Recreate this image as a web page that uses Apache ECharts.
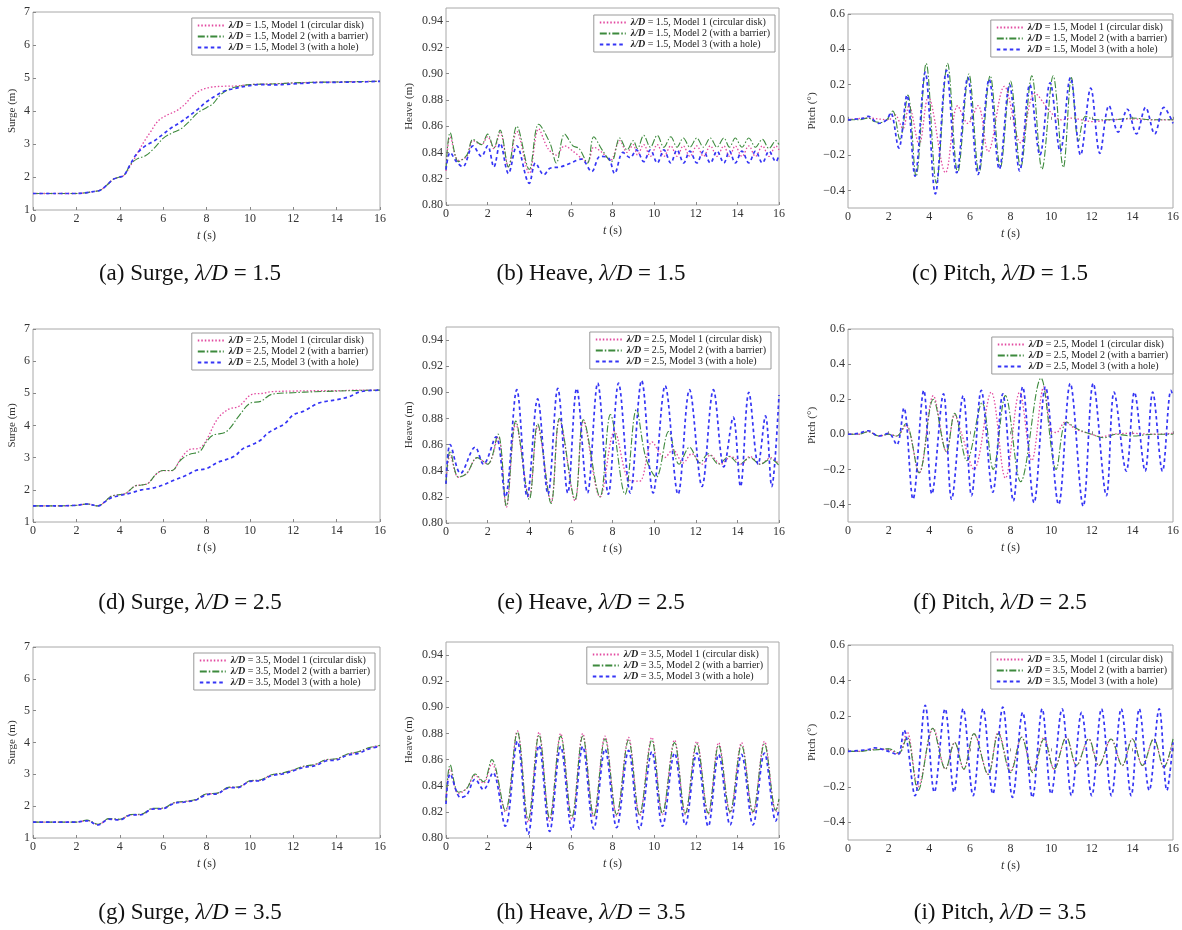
<!DOCTYPE html>
<html><head><meta charset="utf-8">
<script src="https://cdn.jsdelivr.net/npm/echarts@6/dist/echarts.min.js"></script>
<style>html,body{margin:0;padding:0;background:#fff}#c{width:1182px;height:930px}</style>
</head><body><div id="c"></div>
<script>
// ---------- data: [t (s), value] ----------
const s15_m1 = [[0,1.5],[1,1.5],[2,1.5],[2.4,1.52],[2.8,1.56],[3.1,1.6],[3.4,1.75],[3.7,1.93],[4.0,2.0],[4.2,2.05],[4.5,2.35],[4.8,2.7],[5.1,3.05],[5.4,3.35],[5.8,3.72],[6.2,3.88],[6.6,4.0],[7.0,4.2],[7.3,4.42],[7.7,4.62],[8.2,4.72],[8.8,4.75],[9.4,4.76],[10,4.8],[11,4.82],[12,4.85],[13,4.87],[14,4.88],[15,4.89],[16,4.9]];
const s15_m2 = [[0,1.5],[1,1.5],[2,1.5],[2.4,1.52],[2.8,1.56],[3.1,1.6],[3.4,1.75],[3.7,1.93],[4.0,2.0],[4.2,2.05],[4.5,2.38],[4.8,2.55],[5.2,2.65],[5.6,2.88],[6.0,3.17],[6.4,3.33],[6.8,3.45],[7.2,3.68],[7.6,3.95],[8.0,4.1],[8.3,4.22],[8.6,4.46],[9.0,4.65],[9.5,4.75],[10,4.8],[11,4.82],[12,4.85],[13,4.87],[14,4.88],[15,4.89],[16,4.9]];
const s15_m3 = [[0,1.5],[1,1.5],[2,1.5],[2.4,1.52],[2.8,1.56],[3.1,1.6],[3.4,1.75],[3.7,1.93],[4.0,2.0],[4.2,2.05],[4.5,2.4],[4.8,2.72],[5.2,2.95],[5.6,3.1],[6.0,3.3],[6.4,3.5],[6.8,3.66],[7.2,3.85],[7.6,4.05],[8.0,4.28],[8.4,4.45],[8.8,4.6],[9.3,4.68],[9.8,4.75],[10.5,4.8],[11,4.79],[12,4.82],[13,4.86],[14,4.87],[15,4.88],[16,4.9]];

const h15_m1 = [[0,0.826],[0.2,0.852],[0.6,0.834],[1.0,0.837],[1.3,0.849],[1.7,0.846],[2.0,0.852],[2.3,0.843],[2.6,0.855],[3.0,0.829],[3.4,0.856],[4.0,0.824],[4.45,0.858],[4.9,0.843],[5.3,0.838],[5.7,0.845],[6.1,0.841],[6.8,0.833],[7.1,0.844],[7.5,0.84],[7.9,0.834],[8.35,0.849],[8.7,0.84],[9.0,0.846],[9.2,0.838],[9.5,0.846],[9.82,0.837],[10.15,0.846],[10.47,0.837],[10.8,0.845],[11.1,0.837],[11.4,0.845],[11.72,0.837],[12.05,0.845],[12.37,0.837],[12.7,0.845],[13.02,0.837],[13.35,0.845],[13.62,0.837],[13.9,0.845],[14.22,0.837],[14.55,0.845],[14.87,0.837],[15.2,0.845],[15.52,0.837],[15.85,0.845],[16,0.842]];
const h15_m2 = [[0,0.827],[0.2,0.855],[0.6,0.833],[1.0,0.838],[1.3,0.85],[1.7,0.846],[2.0,0.854],[2.3,0.8435],[2.6,0.857],[3.0,0.829],[3.4,0.86],[4.0,0.827],[4.45,0.8615],[5.0,0.847],[5.3,0.832],[5.7,0.854],[6.1,0.845],[6.4,0.843],[6.8,0.832],[7.1,0.852],[7.5,0.842],[7.95,0.833],[8.35,0.851],[8.7,0.842],[9.0,0.849],[9.2,0.843],[9.5,0.853],[9.82,0.844],[10.15,0.853],[10.47,0.844],[10.8,0.852],[11.1,0.844],[11.4,0.851],[11.72,0.844],[12.05,0.851],[12.37,0.844],[12.7,0.851],[13.02,0.844],[13.35,0.851],[13.62,0.844],[13.9,0.851],[14.22,0.844],[14.55,0.851],[14.87,0.844],[15.2,0.85],[15.52,0.843],[15.85,0.849],[16,0.846]];
const h15_m3 = [[0,0.827],[0.2,0.84],[0.5,0.833],[0.8,0.829],[1.3,0.845],[1.7,0.837],[2.0,0.845],[2.3,0.829],[2.6,0.847],[3.0,0.824],[3.4,0.845],[4.0,0.8165],[4.3,0.832],[4.7,0.823],[5.0,0.828],[5.5,0.829],[6.0,0.832],[6.5,0.835],[7.0,0.8255],[7.4,0.837],[7.8,0.836],[8.1,0.824],[8.5,0.84],[8.85,0.836],[9.15,0.842],[9.5,0.833],[9.82,0.842],[10.15,0.832],[10.47,0.842],[10.8,0.832],[11.1,0.842],[11.42,0.832],[11.72,0.841],[12.05,0.832],[12.37,0.841],[12.7,0.832],[13.02,0.841],[13.35,0.832],[13.62,0.841],[13.9,0.832],[14.22,0.841],[14.55,0.832],[14.87,0.841],[15.2,0.832],[15.52,0.841],[15.85,0.833],[16,0.838]];

const p15_m1 = [[0,0],[1,0.01],[2,0.0],[2.3,0.03],[2.7,-0.05],[3.0,0.08],[3.5,-0.14],[3.95,0.13],[4.8,-0.3],[5.4,0.08],[5.9,-0.02],[6.4,0.08],[6.9,-0.18],[7.7,0.19],[8.5,-0.13],[9.2,0.15],[10.0,0.04],[10.5,0.0],[11,0.01],[12,-0.01],[13,0.0],[14,0.005],[15,0.0],[16,0.0]];
const p15_m2 = [[0,0],[0.5,0.0],[1.0,0.01],[1.3,-0.01],[1.6,-0.015],[1.9,0.0],[2.2,0.05],[2.55,-0.11],[2.95,0.14],[3.35,-0.32],[3.85,0.32],[4.35,-0.36],[4.9,0.32],[5.4,-0.3],[5.95,0.26],[6.45,-0.3],[7.0,0.25],[7.5,-0.27],[8.0,0.22],[8.5,-0.27],[9.05,0.25],[9.55,-0.28],[10.1,0.25],[10.6,-0.27],[11.0,0.24],[11.35,-0.12],[11.7,0.02],[12.2,0.0],[13,0.0],[14,0.01],[15,0.0],[16,0.0]];
const p15_m3 = [[0,0],[0.8,0.01],[1.0,0.02],[1.5,-0.02],[1.9,0.0],[2.1,0.04],[2.5,-0.16],[2.9,0.14],[3.3,-0.32],[3.8,0.27],[4.3,-0.42],[4.85,0.28],[5.35,-0.3],[5.9,0.24],[6.4,-0.31],[6.95,0.23],[7.45,-0.28],[7.95,0.2],[8.45,-0.29],[8.95,0.2],[9.45,-0.2],[9.95,0.21],[10.45,-0.18],[10.95,0.24],[11.45,-0.2],[11.95,0.18],[12.4,-0.19],[12.85,0.08],[13.3,-0.07],[13.75,0.06],[14.2,-0.08],[14.65,0.07],[15.1,-0.08],[15.55,0.07],[16,-0.02]];

const s25_m1 = [[0,1.5],[1,1.5],[2,1.52],[2.5,1.56],[3.0,1.5],[3.3,1.62],[3.6,1.8],[4.0,1.85],[4.3,1.9],[4.7,2.12],[5.0,2.15],[5.3,2.2],[5.7,2.5],[6.0,2.6],[6.4,2.6],[6.8,2.95],[7.2,3.25],[7.7,3.3],[8.0,3.55],[8.5,4.2],[9.0,4.5],[9.5,4.6],[10.1,4.97],[10.6,5.0],[11,5.05],[12,5.07],[13,5.08],[14,5.08],[15,5.1],[16,5.1]];
const s25_m2 = [[0,1.5],[1,1.5],[2,1.52],[2.5,1.56],[3.0,1.5],[3.3,1.62],[3.6,1.8],[4.0,1.85],[4.3,1.9],[4.7,2.12],[5.0,2.15],[5.3,2.2],[5.7,2.5],[6.0,2.6],[6.4,2.6],[6.8,2.92],[7.2,3.1],[7.7,3.2],[8.0,3.5],[8.3,3.7],[8.9,3.8],[9.5,4.3],[10.0,4.69],[10.5,4.75],[11.0,4.97],[12,5.02],[13,5.05],[14,5.07],[15,5.09],[16,5.1]];
const s25_m3 = [[0,1.5],[1,1.5],[2,1.52],[2.5,1.56],[3.0,1.5],[3.3,1.62],[3.6,1.75],[4.0,1.82],[4.5,1.9],[5.0,2.0],[5.5,2.05],[6.0,2.15],[6.5,2.3],[7.1,2.46],[7.5,2.6],[8.0,2.66],[8.5,2.85],[8.9,2.94],[9.3,3.05],[9.7,3.29],[10.1,3.4],[10.5,3.55],[10.8,3.75],[11.2,3.91],[11.6,4.05],[12.0,4.33],[12.5,4.45],[13.1,4.68],[13.5,4.75],[14.0,4.8],[14.6,4.9],[15.1,5.05],[16,5.1]];

const h25_m1 = [[0,0.83],[0.2,0.852],[0.6,0.835],[1.0,0.838],[1.5,0.85],[2.0,0.845],[2.5,0.866],[2.9,0.812],[3.35,0.876],[4.0,0.82],[4.4,0.874],[5.05,0.816],[5.45,0.879],[6.2,0.817],[6.6,0.878],[7.4,0.82],[8.1,0.87],[8.8,0.833],[9.3,0.832],[9.9,0.862],[10.5,0.85],[10.9,0.856],[11.4,0.846],[11.8,0.853],[12.3,0.845],[12.7,0.852],[13.2,0.845],[13.7,0.851],[14.2,0.845],[14.6,0.851],[15.1,0.845],[15.6,0.85],[16,0.845]];
const h25_m2 = [[0,0.83],[0.2,0.855],[0.6,0.835],[1.0,0.838],[1.5,0.85],[2.0,0.845],[2.5,0.868],[2.9,0.813],[3.35,0.878],[4.0,0.818],[4.4,0.876],[5.05,0.815],[5.45,0.88],[6.2,0.818],[6.6,0.879],[7.4,0.82],[7.9,0.883],[8.6,0.822],[9.15,0.887],[9.6,0.85],[10.1,0.835],[10.7,0.87],[11.2,0.845],[11.7,0.858],[12.2,0.846],[12.6,0.853],[13.1,0.845],[13.6,0.851],[14.1,0.845],[14.6,0.85],[15.1,0.845],[15.6,0.849],[16,0.844]];
const h25_m3 = [[0,0.83],[0.2,0.86],[0.7,0.838],[1.4,0.858],[1.8,0.845],[2.4,0.866],[2.85,0.82],[3.4,0.902],[3.9,0.82],[4.4,0.895],[4.9,0.822],[5.37,0.903],[5.85,0.823],[6.28,0.903],[6.8,0.823],[7.29,0.907],[7.8,0.822],[8.29,0.907],[8.85,0.823],[9.4,0.909],[9.95,0.823],[10.53,0.905],[11.15,0.822],[11.7,0.902],[12.3,0.828],[12.85,0.902],[13.35,0.843],[13.8,0.881],[14.15,0.828],[14.55,0.9],[15.0,0.845],[15.35,0.882],[15.65,0.828],[16,0.898]];

const p25_m1 = [[0,0],[0.5,0.0],[1.0,0.015],[1.5,-0.01],[2.0,0.0],[2.4,-0.01],[2.84,0.05],[3.5,-0.22],[4.2,0.22],[4.85,-0.1],[5.25,0.11],[5.6,0.0],[6.2,-0.2],[7.05,0.24],[7.75,-0.25],[8.45,0.24],[9.05,-0.15],[9.64,0.27],[10.0,0.02],[10.25,0.01],[10.7,0.07],[11.2,0.03],[12,0.0],[12.5,-0.015],[13,0.0],[14,0.005],[15,0.0],[16,0.005]];
const p25_m2 = [[0,0],[0.5,0.0],[1.0,0.015],[1.5,-0.01],[2.0,0.0],[2.4,-0.01],[2.84,0.06],[3.5,-0.22],[4.2,0.2],[4.85,-0.1],[5.25,0.12],[5.85,-0.15],[6.6,0.18],[7.15,-0.2],[7.75,0.22],[8.5,-0.27],[9.5,0.32],[10.25,-0.2],[10.75,0.07],[11.3,0.03],[12,0.0],[12.6,-0.02],[13.2,0.0],[14,-0.01],[15,0.0],[16,0.0]];
const p25_m3 = [[0,0],[0.5,0.005],[1.0,0.02],[1.5,-0.01],[2.0,0.005],[2.4,-0.06],[2.75,0.15],[3.2,-0.37],[3.73,0.25],[4.13,-0.34],[4.7,0.23],[5.1,-0.37],[5.67,0.22],[6.08,-0.35],[6.56,0.25],[7.13,-0.33],[7.62,0.23],[8.14,-0.38],[8.6,0.27],[9.16,-0.39],[9.72,0.27],[10.37,-0.4],[10.94,0.29],[11.58,-0.41],[12.07,0.29],[12.72,-0.35],[13.1,0.24],[13.7,-0.21],[14.1,0.24],[14.63,-0.21],[15.0,0.24],[15.48,-0.21],[15.9,0.25],[16,0.22]];

const s35_m1 = [[0,1.5],[1,1.5],[2,1.5],[2.5,1.55],[3.0,1.42],[3.5,1.6],[4.0,1.58],[4.5,1.73],[5.0,1.74],[5.5,1.92],[6.0,1.93],[6.5,2.1],[7.0,2.14],[7.5,2.2],[8.0,2.38],[8.5,2.4],[9.0,2.58],[9.5,2.6],[10.0,2.79],[10.5,2.82],[11.0,2.98],[11.5,3.03],[12.0,3.13],[12.5,3.25],[13.0,3.3],[13.5,3.45],[14.0,3.48],[14.5,3.63],[15.0,3.7],[15.5,3.83],[16,3.9]];
const s35_m2 = [[0,1.5],[1,1.5],[2,1.5],[2.5,1.56],[3.0,1.43],[3.5,1.61],[4.0,1.59],[4.5,1.74],[5.0,1.75],[5.5,1.93],[6.0,1.94],[6.5,2.11],[7.0,2.15],[7.5,2.21],[8.0,2.39],[8.5,2.41],[9.0,2.59],[9.5,2.61],[10.0,2.8],[10.5,2.83],[11.0,2.99],[11.5,3.04],[12.0,3.14],[12.5,3.26],[13.0,3.31],[13.5,3.46],[14.0,3.49],[14.5,3.64],[15.0,3.71],[15.5,3.84],[16,3.91]];
const s35_m3 = [[0,1.5],[1,1.5],[2,1.5],[2.5,1.54],[3.0,1.41],[3.5,1.59],[4.0,1.57],[4.5,1.72],[5.0,1.73],[5.5,1.91],[6.0,1.92],[6.5,2.09],[7.0,2.13],[7.5,2.19],[8.0,2.36],[8.5,2.39],[9.0,2.57],[9.5,2.59],[10.0,2.78],[10.5,2.8],[11.0,2.96],[11.5,3.01],[12.0,3.11],[12.5,3.22],[13.0,3.27],[13.5,3.42],[14.0,3.45],[14.5,3.6],[15.0,3.66],[15.5,3.8],[16,3.88]];

const h35_m1 = [[0,0.828],[0.2,0.853],[0.6,0.834],[1.0,0.838],[1.4,0.848],[1.8,0.842],[2.2,0.857],[2.85,0.82],[3.43,0.882],[3.95,0.812],[4.47,0.881],[4.98,0.813],[5.51,0.88],[6.05,0.814],[6.57,0.88],[7.1,0.816],[7.64,0.878],[8.2,0.817],[8.77,0.877],[9.3,0.817],[9.89,0.877],[10.4,0.818],[10.98,0.875],[11.5,0.818],[12.05,0.874],[12.6,0.818],[13.1,0.873],[13.65,0.819],[14.2,0.873],[14.75,0.819],[15.3,0.874],[15.85,0.82],[16,0.83]];
const h35_m2 = [[0,0.828],[0.2,0.856],[0.6,0.835],[1.0,0.838],[1.4,0.849],[1.8,0.843],[2.2,0.86],[2.85,0.821],[3.43,0.881],[3.95,0.814],[4.47,0.879],[4.98,0.815],[5.51,0.878],[6.05,0.816],[6.57,0.878],[7.1,0.817],[7.64,0.876],[8.2,0.818],[8.77,0.875],[9.3,0.818],[9.89,0.875],[10.4,0.819],[10.98,0.873],[11.5,0.819],[12.05,0.872],[12.6,0.819],[13.1,0.871],[13.65,0.82],[14.2,0.871],[14.75,0.82],[15.3,0.872],[15.85,0.821],[16,0.83]];
const h35_m3 = [[0,0.826],[0.2,0.849],[0.7,0.831],[1.0,0.833],[1.4,0.845],[1.8,0.837],[2.25,0.85],[2.85,0.809],[3.43,0.874],[3.95,0.803],[4.47,0.871],[4.98,0.805],[5.51,0.87],[6.05,0.806],[6.57,0.87],[7.1,0.807],[7.64,0.868],[8.2,0.808],[8.77,0.867],[9.3,0.807],[9.89,0.866],[10.4,0.809],[10.98,0.865],[11.5,0.81],[12.05,0.865],[12.6,0.809],[13.1,0.864],[13.65,0.81],[14.2,0.864],[14.75,0.81],[15.3,0.865],[15.85,0.813],[16,0.822]];

const p35_m1 = [[0,0],[0.5,0.0],[1.0,0.008],[1.5,0.012],[2.0,0.01],[2.5,-0.015],[2.9,0.11],[3.45,-0.2],[4.2,0.13],[4.8,-0.1],[5.25,0.05],[5.7,-0.1],[6.2,0.1],[6.9,-0.13],[7.4,0.11],[8.0,-0.11],[8.55,0.08],[9.1,-0.11],[9.65,0.08],[10.15,-0.1],[10.75,0.08],[11.25,-0.08],[11.85,0.07],[12.35,-0.08],[12.95,0.07],[13.5,-0.08],[14.0,0.07],[14.5,-0.08],[15.05,0.07],[15.55,-0.09],[16,0.06]];
const p35_m2 = [[0,0],[0.5,0.0],[1.0,0.005],[1.5,0.01],[2.0,0.015],[2.5,-0.01],[2.9,0.08],[3.45,-0.22],[4.17,0.13],[4.8,-0.1],[5.25,0.05],[5.7,-0.1],[6.2,0.1],[6.9,-0.13],[7.4,0.1],[8.0,-0.12],[8.55,0.08],[9.1,-0.12],[9.65,0.07],[10.15,-0.1],[10.75,0.08],[11.25,-0.08],[11.85,0.07],[12.35,-0.08],[12.95,0.07],[13.5,-0.08],[14.0,0.07],[14.5,-0.08],[15.05,0.07],[15.55,-0.09],[16,0.07]];
const p35_m3 = [[0,0],[1.0,0.01],[1.3,0.02],[2.0,0.0],[2.45,-0.02],[2.75,0.12],[3.3,-0.25],[3.8,0.26],[4.25,-0.23],[4.78,0.24],[5.22,-0.23],[5.67,0.24],[6.16,-0.25],[6.65,0.24],[7.13,-0.24],[7.62,0.25],[8.1,-0.26],[8.6,0.22],[9.08,-0.26],[9.56,0.24],[10.0,-0.24],[10.54,0.24],[11.0,-0.25],[11.5,0.22],[12.0,-0.25],[12.48,0.24],[12.97,-0.25],[13.45,0.24],[13.94,-0.25],[14.34,0.24],[14.83,-0.22],[15.32,0.24],[15.7,-0.22],[16,0.05]];

const ratios = ['1.5', '2.5', '3.5'];
const modelNames = ['Model 1 (circular disk)', 'Model 2 (with a barrier)', 'Model 3 (with a hole)'];
const quantities = ['Surge', 'Heave', 'Pitch'];
const yNames = ['Surge (m)', 'Heave (m)', 'Pitch (°)'];
const surgeTicks = [1, 2, 3, 4, 5, 6, 7];
const heaveTicks = [0.80, 0.82, 0.84, 0.86, 0.88, 0.90, 0.92, 0.94];
const pitchTicks = [-0.4, -0.2, 0.0, 0.2, 0.4, 0.6];
const captionLetters = ['a','b','c','d','e','f','g','h','i'];

const dataGrid = [
  [[s15_m1, s15_m2, s15_m3], [h15_m1, h15_m2, h15_m3], [p15_m1, p15_m2, p15_m3]],
  [[s25_m1, s25_m2, s25_m3], [h25_m1, h25_m2, h25_m3], [p25_m1, p25_m2, p25_m3]],
  [[s35_m1, s35_m2, s35_m3], [h35_m1, h35_m2, h35_m3], [p35_m1, p35_m2, p35_m3]]
];

// ---------- layout / style ----------
const FONT = '"Liberation Serif", "Times New Roman", serif';
const colLeft = [33, 446, 848];
const colWidth = [347, 333, 330];
const gridTop = [[12, 8, 14], [329, 327, 329], [647, 642, 645]];
const gridHeight = [[198, 197, 194], [193, 196, 193], [191, 196, 195]];
const legendPos = [[[809, 18], [407, 15], [10, 20]], [[809, 333], [411, 332], [9, 337]], [[807, 653], [414, 647], [10, 652]]];
const captionX = [190, 591, 1000];
const captionY = [274, 603, 913];
const yRange = [[1, 7], [0.80, 0.95], [-0.5, 0.6]];
const yGap = [15, 31, 30];
const modelColors = ['#e2489f', '#3d8a3d', '#3535f5'];
const modelLine = [
  { type: [1.5, 2], width: 1.3 },
  { type: [7, 2, 1.5, 2], width: 1.1 },
  { type: [3.5, 3], width: 1.7 }
];

const grids = [], xAxes = [], yAxes = [], series = [], legends = [], graphics = [];
const seriesName = (r, m) => 'λ/D = ' + ratios[r] + ', ' + modelNames[m];
const yFmt = [v => String(v), v => v.toFixed(2), v => (v < 0 ? '−' : '') + Math.abs(v).toFixed(1)];
const yTicks = [surgeTicks, heaveTicks, pitchTicks];

for (let r = 0; r < 3; r++) {
  for (let c = 0; c < 3; c++) {
    const gi = grids.length;
    grids.push({ left: colLeft[c], top: gridTop[r][c], width: colWidth[c], height: gridHeight[r][c],
      show: true, borderColor: '#a8a8a8', borderWidth: 1, backgroundColor: 'transparent' });
    xAxes.push({ type: 'value', gridIndex: gi, min: 0, max: 16, interval: 2,
      axisLine: { show: false }, splitLine: { show: false },
      axisTick: { show: true, inside: true, length: 3, lineStyle: { color: '#888' } },
      axisLabel: { margin: 3, fontFamily: FONT, fontSize: 12, color: '#333' },
      name: '{i|t} (s)', nameLocation: 'middle', nameGap: 20,
      nameTextStyle: { fontFamily: FONT, fontSize: 12, color: '#333',
        rich: { i: { fontStyle: 'italic', fontFamily: FONT, fontSize: 12, color: '#333' } } } });
    yAxes.push({ type: 'value', gridIndex: gi, min: yRange[c][0], max: yRange[c][1],
      axisLine: { show: false }, splitLine: { show: false },
      axisTick: { show: true, inside: true, length: 3, lineStyle: { color: '#888' }, customValues: yTicks[c] },
      axisLabel: { margin: 3, fontFamily: FONT, fontSize: 12, color: '#333', customValues: yTicks[c], formatter: yFmt[c] },
      name: yNames[c], nameLocation: 'middle', nameGap: yGap[c],
      nameTextStyle: { fontFamily: FONT, fontSize: 11, color: '#333' } });
    for (let m = 0; m < 3; m++) {
      series.push({ type: 'line', name: seriesName(r, m), xAxisIndex: gi, yAxisIndex: gi,
        data: dataGrid[r][c][m], smooth: 0.35, showSymbol: false, symbol: 'none',
        lineStyle: { color: modelColors[m], type: modelLine[m].type, width: modelLine[m].width },
        itemStyle: { color: modelColors[m] }, animation: false, z: 2 + m });
    }
    legends.push({ orient: 'vertical', right: legendPos[r][c][0], top: legendPos[r][c][1],
      data: [0, 1, 2].map(m => seriesName(r, m)),
      itemWidth: 26, itemHeight: 8, itemGap: 0, padding: [2, 5, 2, 5],
      borderColor: '#9a9a9a', borderWidth: 1, backgroundColor: '#fff', selectedMode: false,
      itemStyle: { opacity: 0, borderWidth: 0 },
      formatter: n => '{i|λ/D}' + n.slice(3),
      textStyle: { fontFamily: FONT, fontSize: 10, color: '#222', lineHeight: 11,
        rich: { i: { fontStyle: 'italic', fontWeight: 'bold', fontFamily: FONT, fontSize: 10, color: '#222' } } } });
    graphics.push({ type: 'text', x: captionX[c], y: captionY[r],
      style: { text: '(' + captionLetters[r * 3 + c] + ') ' + quantities[c] + ', {i|λ/D} = ' + ratios[r],
        fontFamily: FONT, fontSize: 23, fill: '#111', textAlign: 'center', textVerticalAlign: 'middle',
        rich: { i: { fontStyle: 'italic', fontFamily: FONT, fontSize: 23, fill: '#111' } } } });
  }
}

const chart = echarts.init(document.getElementById('c'), null, { renderer: 'canvas' });
chart.setOption({
  backgroundColor: '#ffffff', animation: false,
  grid: grids, xAxis: xAxes, yAxis: yAxes, series: series, legend: legends, graphic: graphics
});
</script></body></html>
